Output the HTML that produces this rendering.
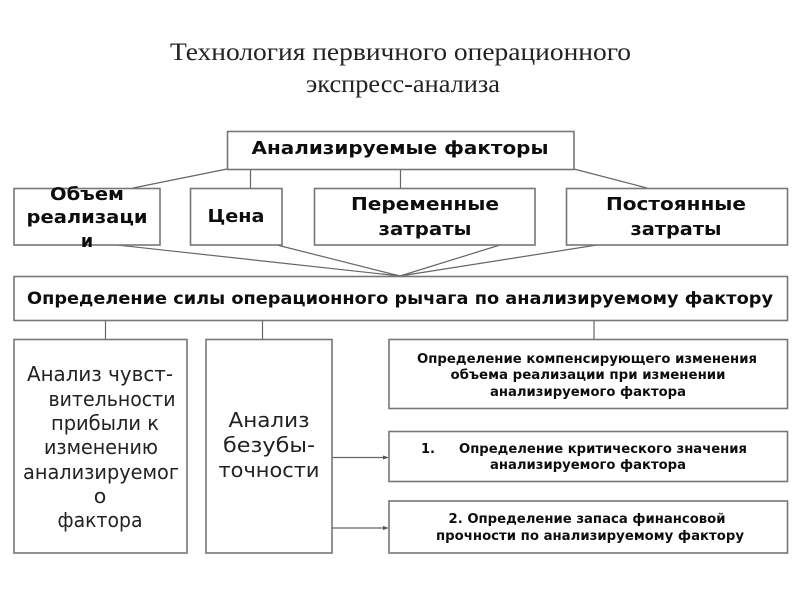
<!DOCTYPE html>
<html lang="ru"><head><meta charset="utf-8"><title>Технология первичного операционного экспресс-анализа</title>
<style>html,body{margin:0;padding:0;background:#fff;width:800px;height:600px;overflow:hidden}svg{display:block}
.t{font-family:"Liberation Serif",serif;font-size:25px;fill:#222}
.b{font-family:"DejaVu Sans","Liberation Sans",sans-serif;font-weight:bold;fill:#111;text-anchor:middle}
.n{font-family:"DejaVu Sans","Liberation Sans",sans-serif;fill:#222;text-anchor:middle;font-size:20.500px}
.s{font-size:17.500px}.x{font-size:13.500px}
rect{fill:#fff;stroke:#777;stroke-width:1.6}line{stroke:#666;stroke-width:1.2}
</style></head><body>
<svg width="800" height="600" viewBox="0 0 800 600" xmlns="http://www.w3.org/2000/svg">
<defs><filter id="soft" filterUnits="userSpaceOnUse" x="0" y="0" width="800" height="600"><feGaussianBlur stdDeviation="0.35"/></filter></defs>
<g filter="url(#soft)">
<text class="t" x="170" y="60" textLength="461" lengthAdjust="spacingAndGlyphs">Технология первичного  операционного</text>
<text class="t" x="306" y="92" textLength="194" lengthAdjust="spacingAndGlyphs">экспресс-анализа</text>

<line x1="227" y1="169" x2="133" y2="188"/><line x1="250.500" y1="169" x2="250.500" y2="188"/><line x1="400.500" y1="169" x2="400.500" y2="188"/><line x1="574" y1="169" x2="647" y2="188"/>
<line x1="117" y1="245" x2="400" y2="276"/><line x1="277" y1="245" x2="400" y2="276"/><line x1="500" y1="245" x2="400" y2="276"/><line x1="597" y1="245" x2="400" y2="276"/>
<line x1="105.500" y1="320" x2="105.500" y2="339"/><line x1="262.500" y1="320" x2="262.500" y2="339"/><line x1="594" y1="320" x2="594" y2="339"/>
<line x1="332" y1="457.500" x2="385" y2="457.500"/><line x1="332" y1="528" x2="385" y2="528"/>
<path d="M383 455.500l6 2-6 2zM383 526l6 2-6 2z" fill="#555"/>

<rect x="227.500" y="131.500" width="346.500" height="38"/>
<rect x="14" y="188.500" width="146" height="56.500"/><rect x="190.500" y="188.500" width="91.500" height="56.500"/><rect x="314.500" y="188.500" width="220.500" height="56.500"/><rect x="566.500" y="188.500" width="221" height="56.500"/>
<rect x="14" y="276.500" width="773.500" height="44"/>
<rect x="14" y="339.500" width="173" height="213.500"/><rect x="206" y="339.500" width="126" height="213.500"/>
<rect x="389" y="339.500" width="398.500" height="69"/><rect x="389" y="431.500" width="398.500" height="50"/><rect x="389" y="501" width="398.500" height="52"/>

<text class="b s" x="400" y="154" textLength="297" lengthAdjust="spacingAndGlyphs">Анализируемые факторы</text>
<text class="b s" x="87" y="200" textLength="74" lengthAdjust="spacingAndGlyphs">Объем</text>
<text class="b s" x="87" y="223" textLength="121" lengthAdjust="spacingAndGlyphs">реализаци</text>
<text class="b s" x="87" y="247">и</text>
<text class="b s" x="236" y="222" textLength="57" lengthAdjust="spacingAndGlyphs">Цена</text>
<text class="b s" x="425" y="210" textLength="148" lengthAdjust="spacingAndGlyphs">Переменные</text>
<text class="b s" x="425" y="235" textLength="93" lengthAdjust="spacingAndGlyphs">затраты</text>
<text class="b s" x="676" y="210" textLength="140" lengthAdjust="spacingAndGlyphs">Постоянные</text>
<text class="b s" x="676" y="235" textLength="91" lengthAdjust="spacingAndGlyphs">затраты</text>
<text class="b" style="font-size:16.500px" x="400" y="304" textLength="746" lengthAdjust="spacingAndGlyphs">Определение силы операционного рычага по анализируемому фактору</text>

<text class="n" x="100" y="381" textLength="146" lengthAdjust="spacingAndGlyphs">Анализ чувст-</text>
<text class="n" x="112" y="406" textLength="127" lengthAdjust="spacingAndGlyphs">вительности</text>
<text class="n" x="105" y="430" textLength="108" lengthAdjust="spacingAndGlyphs">прибыли к</text>
<text class="n" x="101" y="454" textLength="114" lengthAdjust="spacingAndGlyphs">изменению</text>
<text class="n" x="101" y="479" textLength="156" lengthAdjust="spacingAndGlyphs">анализируемог</text>
<text class="n" x="100" y="503">о</text>
<text class="n" x="100" y="527" textLength="85" lengthAdjust="spacingAndGlyphs">фактора</text>
<text class="n" x="269" y="427" textLength="81" lengthAdjust="spacingAndGlyphs">Анализ</text>
<text class="n" x="269" y="452" textLength="92" lengthAdjust="spacingAndGlyphs">безубы-</text>
<text class="n" x="269" y="477" textLength="101" lengthAdjust="spacingAndGlyphs">точности</text>

<text class="b x" x="587" y="363" textLength="340" lengthAdjust="spacingAndGlyphs">Определение компенсирующего изменения</text>
<text class="b x" x="588" y="379" textLength="275" lengthAdjust="spacingAndGlyphs">объема реализации при изменении</text>
<text class="b x" x="588" y="396" textLength="196" lengthAdjust="spacingAndGlyphs">анализируемого фактора</text>
<text class="b x" x="428" y="453" textLength="14" lengthAdjust="spacingAndGlyphs">1.</text>
<text class="b x" x="603" y="453" textLength="288" lengthAdjust="spacingAndGlyphs">Определение критического значения</text>
<text class="b x" x="588" y="469" textLength="196" lengthAdjust="spacingAndGlyphs">анализируемого фактора</text>
<text class="b x" x="587" y="523" textLength="277" lengthAdjust="spacingAndGlyphs">2. Определение запаса финансовой</text>
<text class="b x" x="590" y="540" textLength="308" lengthAdjust="spacingAndGlyphs">прочности по анализируемому фактору</text>
</g>
</svg></body></html>
